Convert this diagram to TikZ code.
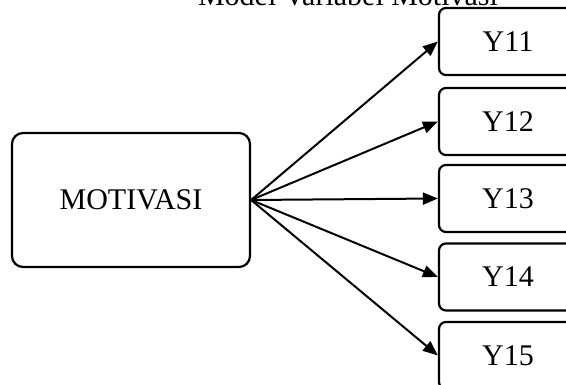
\documentclass[tikz,border=0pt]{standalone}
\usepackage{fontspec}
\setmainfont{Liberation Serif}
\usetikzlibrary{arrows.meta}
\begin{document}
\begin{tikzpicture}[x=1pt,y=1pt,
  box/.style={draw=black, line width=2.2pt, rounded corners=7pt, align=center,
    font=\fontsize{30}{36}\selectfont, inner sep=0pt},
  bigbox/.style={box, rounded corners=11pt, minimum width=238pt, minimum height=134pt},
  ybox/.style={box, minimum width=138pt, minimum height=67pt},
  arr/.style={line width=2pt, -{Triangle[length=15pt,width=12pt]}}]
\useasboundingbox (0,0) rectangle (566,385);
\clip (0,0) rectangle (566,385);
\node[font=\fontsize{30}{36}\selectfont, anchor=base] (title) at (348,379) {Model Variabel Motivasi};
\node[bigbox] (m) at (131,185) {MOTIVASI};
\node[ybox] (y11) at (508,343.5) {Y11};
\node[ybox] (y12) at (508,263.5) {Y12};
\node[ybox] (y13) at (508,186.5) {Y13};
\node[ybox] (y14) at (508,108) {Y14};
\node[ybox] (y15) at (508,29.5) {Y15};
\foreach \t in {y11,y12,y13,y14,y15}
  \draw[arr] (m.east) -- (\t.west);
\end{tikzpicture}
\end{document}
